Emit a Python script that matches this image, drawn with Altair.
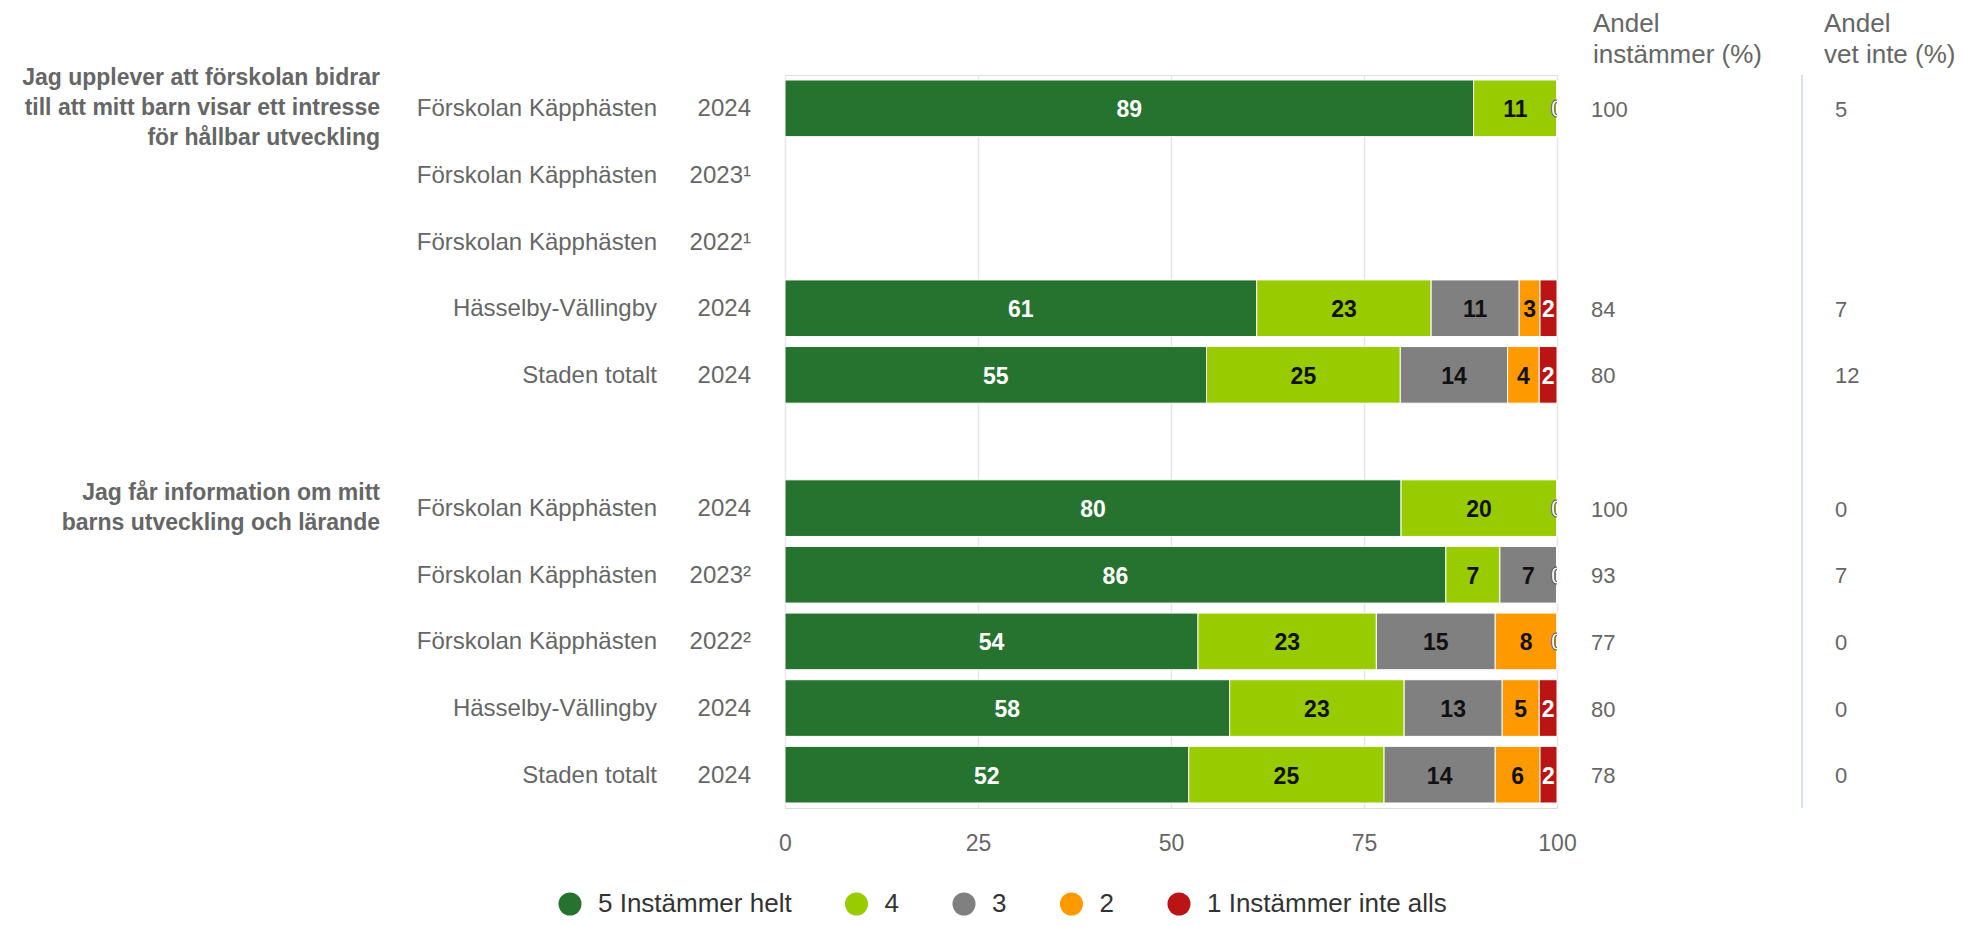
import altair as alt
import pandas as pd

FONT = "Liberation Sans"

# ---------------- data ----------------
questions = [
    "Jag upplever att förskolan bidrar\ntill att mitt barn visar ett intresse\nför hållbar utveckling",
    "Jag får information om mitt\nbarns utveckling och lärande",
]
units = ["Förskolan Käpphästen", "Förskolan Käpphästen", "Förskolan Käpphästen",
         "Hässelby-Vällingby", "Staden totalt"]
years_q1 = ["2024", "2023¹", "2022¹", "2024", "2024"]
years_q2 = ["2024", "2023²", "2022²", "2024", "2024"]

categories = ["5 Instämmer helt", "4", "3", "2", "1 Instämmer inte alls"]
colors = ["#267330", "#99cc00", "#808080", "#ff9900", "#bb1414"]

# shares per category (5,4,3,2,1); None = no data
q1_values = [
    [89.2, 10.8, 0, 0, 0],
    None,
    None,
    [61.1, 22.6, 11.4, 2.7, 2.2],
    [54.6, 25.1, 13.9, 4.1, 2.3],
]
q2_values = [
    [79.8, 20.2, 0, 0, 0],
    [85.6, 7.0, 7.4, 0, 0],
    [53.5, 23.1, 15.4, 8.0, 0],
    [57.6, 22.6, 12.7, 4.8, 2.3],
    [52.3, 25.3, 14.4, 5.8, 2.2],
]
q1_agree = [100, None, None, 84, 80]
q1_dontknow = [5, None, None, 7, 12]
q2_agree = [100, 93, 77, 80, 78]
q2_dontknow = [0, 7, 0, 0, 0]

col_header_1 = "Andel\ninstämmer (%)"
col_header_2 = "Andel\nvet inte (%)"
x_ticks = [0, 25, 50, 75, 100]

# ---------------- tables ----------------
groups = [
    (questions[0], years_q1, q1_values, q1_agree, q1_dontknow),
    (questions[1], years_q2, q2_values, q2_agree, q2_dontknow),
]
row_order = []
bar_rows, label_rows, value_rows, question_rows = [], [], [], []
for gi, (q, years, vals, agree, dk) in enumerate(groups):
    if gi > 0:
        row_order.append("gap")
    for ri in range(5):
        rid = f"{gi}-{ri}"
        row_order.append(rid)
        label_rows.append({"rid": rid, "unit": units[ri], "year": years[ri]})
        if vals[ri] is not None:
            for ci, v in enumerate(vals[ri]):
                bar_rows.append({"rid": rid, "cat": categories[ci], "catorder": ci, "value": v})
        if agree[ri] is not None:
            value_rows.append({"rid": rid, "agree": str(agree[ri]), "dontknow": str(dk[ri])})
    question_rows.append({"rid": f"{gi}-0", "question": q})

bars_df = pd.DataFrame(bar_rows)
labels_df = pd.DataFrame(label_rows)
values_df = pd.DataFrame(value_rows)

# ---------------- layout ----------------
W, H = 772, 733
LH_Q = 30

y_enc = alt.Y(
    "rid:N",
    scale=alt.Scale(domain=row_order, paddingInner=0, paddingOuter=0),
    axis=alt.Axis(
        title=None, labels=False, grid=False, tickBand="extent",
        tickSize=22, tickColor="#ccd6eb", tickWidth=1.5,
        domainColor="#ccd6eb", domainWidth=1.2,
    ),
)
y_plain = alt.Y("rid:N", scale=alt.Scale(domain=row_order, paddingInner=0, paddingOuter=0), axis=None)

bars = alt.Chart(bars_df).mark_bar(
    height={"band": 0.85}, stroke="white", strokeWidth=1
).encode(
    y=y_enc,
    x=alt.X(
        "value:Q", stack="zero",
        scale=alt.Scale(domain=[0, 100], nice=False),
        axis=alt.Axis(
            title=None, values=x_ticks, ticks=False, domain=False,
            grid=True, gridColor="#e6e6e6", gridWidth=1.5,
            labelFontSize=23, labelColor="#666666", labelFont=FONT,
            labelBaseline="middle", labelPadding=35, labelFlush=False,
        ),
    ),
    color=alt.Color(
        "cat:N",
        scale=alt.Scale(domain=categories, range=colors),
        legend=alt.Legend(
            title=None, orient="none", legendX=-228, legendY=816,
            direction="horizontal", columns=5, symbolType="circle",
            symbolSize=531, symbolStrokeWidth=0, symbolOpacity=1,
            labelFontSize=26, labelColor="#333333", labelFont=FONT,
            labelOffset=15, columnPadding=51.5, padding=0, labelLimit=0,
        ),
    ),
    order=alt.Order("catorder:Q", sort="ascending"),
)

stacked = alt.Chart(bars_df).transform_stack(
    stack="value", groupby=["rid"],
    sort=[alt.SortField("catorder", order="ascending")],
    as_=["x0", "x1"],
).transform_calculate(xm="(datum.x0 + datum.x1) / 2")

bar_labels = stacked.transform_filter("datum.value > 0").mark_text(
    font=FONT, fontSize=23, fontWeight="bold", align="center", baseline="middle", dy=2,
).encode(
    x=alt.X("xm:Q"),
    y=y_plain,
    text=alt.Text("value:Q", format=".0f"),
    color=alt.condition("datum.catorder == 0 || datum.catorder == 4",
                        alt.value("white"), alt.value("#111111")),
)

zero_labels = stacked.transform_filter("datum.value == 0 && datum.catorder == 4").mark_text(
    font=FONT, fontSize=23, fontWeight="bold", align="center", baseline="middle", dy=2,
    fill="white", stroke="#555555", strokeWidth=1, clip=True,
).encode(
    x=alt.X("xm:Q"),
    y=y_plain,
    text=alt.Text("value:Q", format=".0f"),
)

unit_text = alt.Chart(labels_df).mark_text(
    font=FONT, fontSize=24, color="#666666", align="right", baseline="middle", dy=1,
).encode(x=alt.value(-128), y=y_plain, text="unit:N")

year_text = alt.Chart(labels_df).mark_text(
    font=FONT, fontSize=24, color="#666666", align="right", baseline="middle", dy=1,
).encode(x=alt.value(-34), y=y_plain, text="year:N")

question_layers = []
for qr in question_rows:
    n_lines = qr["question"].count("\n") + 1
    question_layers.append(
        alt.Chart(pd.DataFrame([qr])).mark_text(
            font=FONT, fontSize=23, fontWeight="bold", color="#666666",
            align="right", baseline="middle", lineBreak="\n", lineHeight=LH_Q,
            dy=-(n_lines - 1) * LH_Q / 2,
        ).encode(x=alt.value(-405), y=y_plain, text="question:N")
    )

agree_text = alt.Chart(values_df).mark_text(
    font=FONT, fontSize=22, color="#666666", align="left", baseline="middle", dy=1.5,
).encode(x=alt.value(806), y=y_plain, text="agree:N")

dk_text = alt.Chart(values_df).mark_text(
    font=FONT, fontSize=22, color="#666666", align="left", baseline="middle", dy=1.5,
).encode(x=alt.value(1050), y=y_plain, text="dontknow:N")

header1 = alt.Chart(pd.DataFrame({"t": [col_header_1]})).mark_text(
    font=FONT, fontSize=26, color="#666666", align="left", baseline="middle",
    lineBreak="\n", lineHeight=31,
).encode(x=alt.value(808), y=alt.value(-51), text="t:N")

header2 = alt.Chart(pd.DataFrame({"t": [col_header_2]})).mark_text(
    font=FONT, fontSize=26, color="#666666", align="left", baseline="middle",
    lineBreak="\n", lineHeight=31,
).encode(x=alt.value(1039), y=alt.value(-51), text="t:N")

separator = alt.Chart(pd.DataFrame({"a": [0]})).mark_rule(
    color="#ccd6eb", strokeWidth=1.5
).encode(x=alt.value(1017), y=alt.value(0), y2=alt.value(H))

chart = alt.layer(
    bars, bar_labels, zero_labels, unit_text, year_text, *question_layers,
    agree_text, dk_text, header1, header2, separator,
).properties(
    width=W, height=H,
    autosize=alt.AutoSizeParams(type="none"),
    padding={"left": 777, "top": 67, "right": 400, "bottom": 111},
).configure_view(stroke=None).configure(font=FONT)

chart.save("out.html", embed_options={"renderer": "svg", "actions": False})
